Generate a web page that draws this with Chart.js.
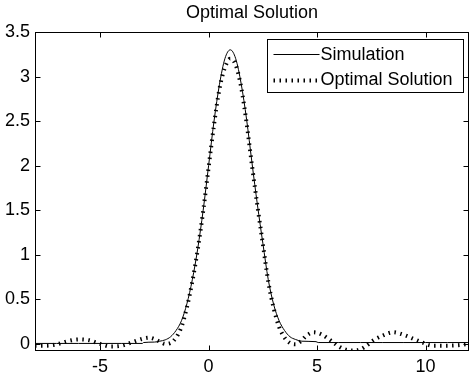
<!DOCTYPE html>
<html><head><meta charset="utf-8">
<script src="https://cdn.jsdelivr.net/npm/chart.js@4.4.1/dist/chart.umd.min.js"></script>
<style>html,body{margin:0;padding:0;background:#fff;overflow:hidden}#wrap{width:473px;height:377px}</style>
</head><body><div id="wrap"><canvas id="c" width="473" height="377"></canvas></div>
<script>
const chartTitle = "Optimal Solution";
const seriesNames = ["Simulation", "Optimal Solution"];
const simX = [-8,-7,-6,-5,-4,-3.05,-3,-2.5,-2.25,-2,-1.75,-1.5,-1.25,-1,-0.75,-0.5,-0.25,0,0.25,0.5,0.75,1,1.25,1.5,1.75,2,2.25,2.5,2.75,3,3.25,3.5,3.75,4,4.3,4.95,5.05,6,7,8,9,10,11,12];
const simY = [0.005,0.005,0.005,0.005,0.005,0.005,0.015,0.02,0.03,0.045,0.08,0.15,0.26,0.45,0.72,1.07,1.5,2.0,2.5,2.91,3.2,3.3,3.2,2.92,2.52,2.03,1.56,1.13,0.72,0.44,0.26,0.15,0.08,0.05,0.03,0.025,0.015,0.015,0.015,0.015,0.015,0.015,0.015,0.015];
const optX = [-8,-7.5,-7,-6.5,-6,-5.5,-5,-4.5,-4,-3.5,-3,-2.75,-2.5,-2.25,-2,-1.75,-1.5,-1.25,-1,-0.75,-0.5,-0.25,0,0.25,0.5,0.75,1,1.25,1.5,1.75,2,2.25,2.5,2.75,3,3.25,3.5,3.75,4,4.25,4.5,4.85,5.25,5.5,5.75,6,6.25,6.6,7,7.3,7.6,8,8.5,9,9.5,9.9,10.3,11,11.5,12];
const optY = [-0.02,-0.02,-0.005,0.03,0.05,0.04,0.0,-0.03,-0.02,0.02,0.06,0.07,0.055,0.025,0.0,0.01,0.07,0.19,0.41,0.7,1.06,1.49,1.98,2.46,2.86,3.1,3.2,3.13,2.88,2.48,2.0,1.55,1.12,0.7,0.4,0.19,0.07,0.01,-0.005,0.03,0.09,0.13,0.1,0.06,0.015,-0.03,-0.06,-0.075,-0.06,-0.015,0.04,0.09,0.13,0.1,0.05,0.01,-0.02,-0.02,-0.015,0.0];
const xTicks = [-5,0,5,10];
const yTicks = [0,0.5,1,1.5,2,2.5,3,3.5];
const xRange = [-8,12];
const yRange = [-0.08,3.5];

const FONT = "'Liberation Sans', Arial, sans-serif";
const toPts = (xs, ys) => xs.map((x, i) => ({x: x, y: ys[i]}));

const framePlugin = {
  id: 'frame',
  afterDatasetsDraw(chart) {
    const {ctx, chartArea: a, scales} = chart;
    const L = Math.round(a.left) + 0.5, R = Math.round(a.right) - 0.5;
    const T = Math.round(a.top) + 0.5, B = Math.round(a.bottom) - 0.5;
    ctx.save();
    ctx.strokeStyle = '#000'; ctx.lineWidth = 1; ctx.setLineDash([]);
    ctx.strokeRect(L, T, R - L, B - T);
    const tl = 5;
    ctx.beginPath();
    xTicks.forEach(v => {
      const px = Math.round(scales.x.getPixelForValue(v)) + 0.5;
      ctx.moveTo(px, B); ctx.lineTo(px, B - tl);
      ctx.moveTo(px, T); ctx.lineTo(px, T + tl);
    });
    yTicks.forEach(v => {
      const py = Math.round(scales.y.getPixelForValue(v)) + 0.5;
      ctx.moveTo(L, py); ctx.lineTo(L + tl, py);
      ctx.moveTo(R, py); ctx.lineTo(R - tl, py);
    });
    ctx.stroke();
    // title
    ctx.fillStyle = '#000';
    ctx.font = '18px ' + FONT;
    ctx.textAlign = 'center'; ctx.textBaseline = 'alphabetic';
    ctx.fillText(chartTitle, (a.left + a.right) / 2, 18);
    // legend
    const w = 196, h = 53;
    const lx = Math.round(a.right - 6 - w) + 0.5, ly = Math.round(a.top + 7) + 0.5;
    ctx.fillStyle = '#fff';
    ctx.fillRect(lx, ly, w, h);
    ctx.strokeStyle = '#000'; ctx.lineWidth = 1;
    ctx.strokeRect(lx, ly, w, h);
    const rows = [ly + 14.5, ly + 40];
    chart.data.datasets.forEach((ds, i) => {
      ctx.save();
      ctx.strokeStyle = ds.borderColor;
      ctx.lineWidth = ds.borderWidth;
      ctx.setLineDash(ds.borderDash || []);
      ctx.beginPath();
      ctx.moveTo(lx + 6, Math.round(rows[i]) + 0.5);
      ctx.lineTo(lx + 52, Math.round(rows[i]) + 0.5);
      ctx.stroke();
      ctx.restore();
      ctx.fillStyle = '#000';
      ctx.font = '18px ' + FONT;
      ctx.textAlign = 'left'; ctx.textBaseline = 'middle';
      ctx.fillText(ds.label, lx + 53, rows[i] + 1);
    });
    ctx.restore();
  }
};

new Chart(document.getElementById('c'), {
  type: 'line',
  data: {
    datasets: [
      {label: seriesNames[0], data: toPts(simX, simY), borderColor: '#000', borderWidth: 1,
       pointRadius: 0, cubicInterpolationMode: 'monotone', fill: false},
      {label: seriesNames[1], data: toPts(optX, optY), borderColor: '#000', borderWidth: 4,
       borderDash: [1.5, 4.5], pointRadius: 0, cubicInterpolationMode: 'monotone', fill: false}
    ]
  },
  options: {
    responsive: false, animation: false, devicePixelRatio: 1,
    layout: {padding: {top: 32, right: 4, left: 0, bottom: 0}},
    plugins: {legend: {display: false}, title: {display: false}, tooltip: {enabled: false}},
    scales: {
      x: {
        type: 'linear', min: xRange[0], max: xRange[1],
        grid: {display: false, drawTicks: false}, border: {display: false},
        afterBuildTicks: s => { s.ticks = xTicks.map(v => ({value: v})); },
        afterFit: s => { s.height = 26; },
        ticks: {autoSkip: false, maxRotation: 0, padding: 5, color: '#000',
                font: {family: FONT, size: 18}, callback: v => String(v)}
      },
      y: {
        type: 'linear', min: yRange[0], max: yRange[1],
        grid: {display: false, drawTicks: false}, border: {display: false},
        afterBuildTicks: s => { s.ticks = yTicks.map(v => ({value: v})); },
        afterFit: s => { s.width = 35; },
        ticks: {autoSkip: false, padding: 5, color: '#000',
                font: {family: FONT, size: 18}, callback: v => String(v)}
      }
    }
  },
  plugins: [framePlugin]
});
</script></body></html>
